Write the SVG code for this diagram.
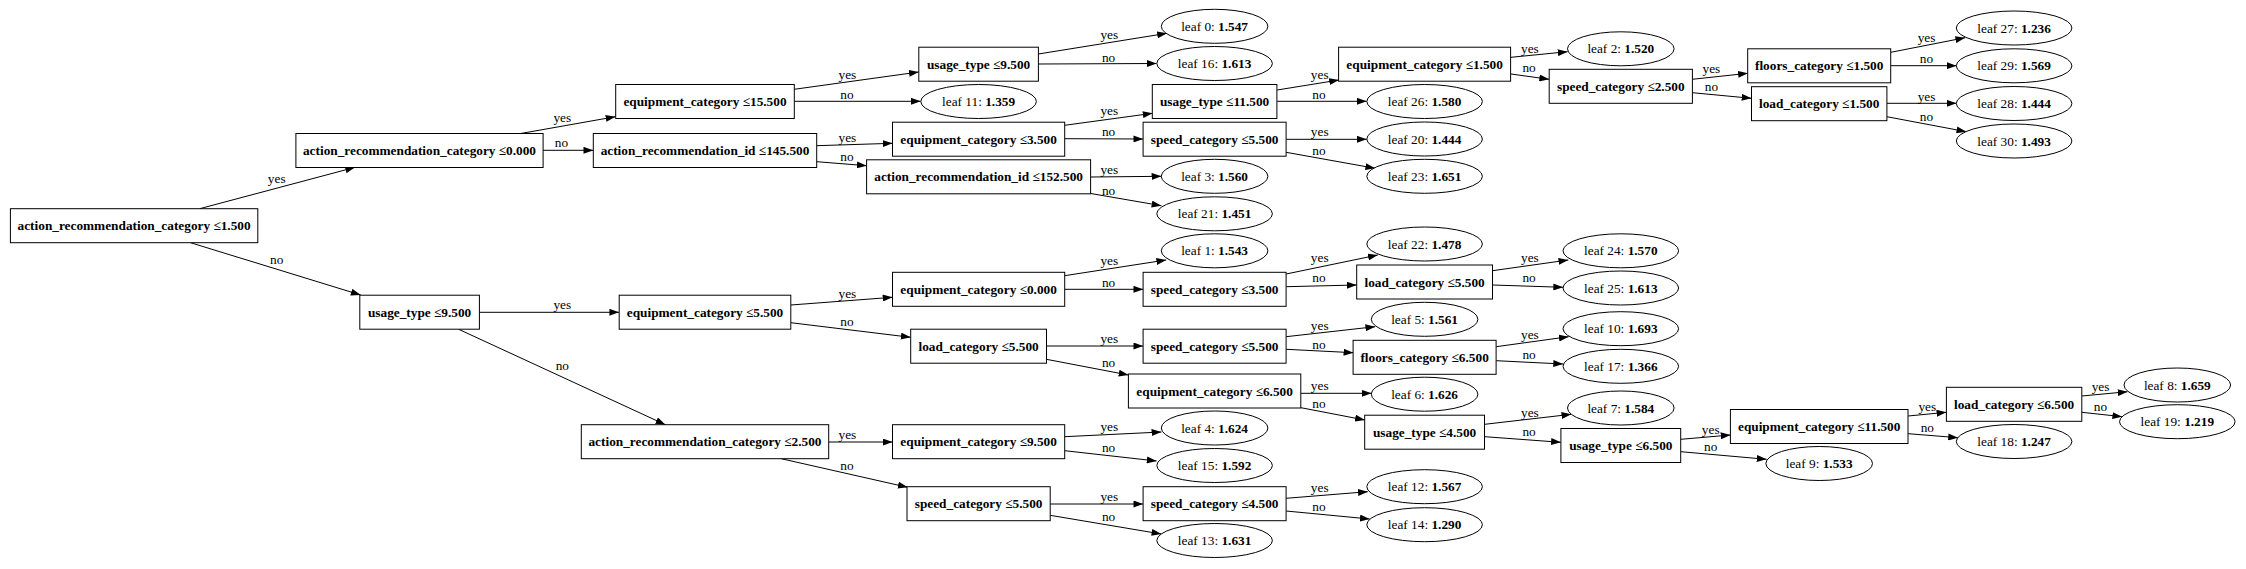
<svg xmlns="http://www.w3.org/2000/svg" width="2246" height="569" viewBox="0 0 2246 569">
<style>
.n rect{fill:#fff;stroke:#000;stroke-width:1}
.n ellipse{fill:#fff;stroke:#000;stroke-width:1}
.n text{font-family:"Liberation Serif","Times New Roman",serif;font-size:13.3px;text-anchor:middle;fill:#000}
.b{font-weight:bold}
#edges line{stroke:#000;stroke-width:1;marker-end:url(#ah)}
#edges text{font-family:"Liberation Serif","Times New Roman",serif;font-size:13.3px;text-anchor:middle;fill:#000}
</style>
<defs>
<marker id="ah" markerUnits="userSpaceOnUse" markerWidth="10" markerHeight="7" refX="9.5" refY="3.4" orient="auto" viewBox="0 0 9.5 6.8">
<path d="M0,0 L9.5,3.4 L0,6.8 z" fill="#000"/>
</marker>
</defs>
<rect width="2246" height="569" fill="#fff"/>
<g id="edges">
<line x1="199.7" y1="208.7" x2="355.1" y2="167.3"/><text x="276.7" y="183">yes</text>
<line x1="190.5" y1="242.7" x2="360.7" y2="295"/><text x="276.7" y="264">no</text>
<line x1="519.7" y1="133.7" x2="615.5" y2="116.7"/><text x="562.3" y="121.7">yes</text>
<line x1="543" y1="150.3" x2="593.3" y2="150.3"/><text x="561.5" y="147.3">no</text>
<line x1="794.2" y1="89.3" x2="918.8" y2="72"/><text x="847.4" y="79">yes</text>
<line x1="794.2" y1="101.3" x2="920.7" y2="101.3"/><text x="847" y="99">no</text>
<line x1="816.7" y1="145.7" x2="892.5" y2="143.3"/><text x="847.4" y="141.7">yes</text>
<line x1="816.7" y1="161.7" x2="866.7" y2="165.7"/><text x="847" y="160.7">no</text>
<line x1="1038.3" y1="54" x2="1167" y2="33.3"/><text x="1109.3" y="39">yes</text>
<line x1="1038.3" y1="64" x2="1156.6" y2="63.5"/><text x="1108.6" y="61.7">no</text>
<line x1="1064.6" y1="125.3" x2="1152.6" y2="113.3"/><text x="1109.3" y="115">yes</text>
<line x1="1064.6" y1="138.7" x2="1143.3" y2="139"/><text x="1108.6" y="136.3">no</text>
<line x1="1090.8" y1="177" x2="1161.4" y2="176.3"/><text x="1109.3" y="174.3">yes</text>
<line x1="1090.8" y1="193.5" x2="1161.4" y2="205.7"/><text x="1108.6" y="194.7">no</text>
<line x1="1277.2" y1="90" x2="1339" y2="80"/><text x="1319.7" y="79">yes</text>
<line x1="1277.2" y1="101.3" x2="1366.7" y2="101.3"/><text x="1319" y="99">no</text>
<line x1="1286.1" y1="139.3" x2="1366.7" y2="139.3"/><text x="1319.7" y="136.3">yes</text>
<line x1="1286.1" y1="152.3" x2="1375.2" y2="168.3"/><text x="1319" y="154.7">no</text>
<line x1="1511" y1="57.3" x2="1567.6" y2="51.7"/><text x="1529.9" y="53.3">yes</text>
<line x1="1511" y1="74" x2="1549.1" y2="79.3"/><text x="1529.1" y="72.3">no</text>
<line x1="1692.3" y1="79.3" x2="1747.9" y2="73.3"/><text x="1711.4" y="73.3">yes</text>
<line x1="1692.3" y1="92.7" x2="1751.5" y2="98.3"/><text x="1711.4" y="91.3">no</text>
<line x1="1890.8" y1="52.3" x2="1965.2" y2="37.7"/><text x="1926.5" y="41.7">yes</text>
<line x1="1890.8" y1="65.7" x2="1956.5" y2="65.7"/><text x="1926.5" y="62.7">no</text>
<line x1="1886.8" y1="103.3" x2="1956.5" y2="103.3"/><text x="1926.5" y="100.7">yes</text>
<line x1="1886.8" y1="116.7" x2="1966.3" y2="131.7"/><text x="1926.5" y="120.7">no</text>
<line x1="479.4" y1="312.3" x2="619.2" y2="312.3"/><text x="562.3" y="309">yes</text>
<line x1="458.7" y1="329.3" x2="665.4" y2="424.7"/><text x="562.3" y="370">no</text>
<line x1="790.8" y1="305" x2="892.5" y2="297.3"/><text x="847.4" y="298">yes</text>
<line x1="790.8" y1="322.7" x2="910.7" y2="337.3"/><text x="847" y="326.3">no</text>
<line x1="1064.6" y1="275.7" x2="1166.2" y2="260"/><text x="1109.3" y="265">yes</text>
<line x1="1064.6" y1="289.3" x2="1143.3" y2="289.3"/><text x="1108.6" y="287.3">no</text>
<line x1="1286.1" y1="274" x2="1377.8" y2="255"/><text x="1319.7" y="262.3">yes</text>
<line x1="1286.1" y1="286.7" x2="1356.7" y2="285"/><text x="1319" y="282.3">no</text>
<line x1="1492.5" y1="270.7" x2="1568.3" y2="260"/><text x="1529.9" y="262.3">yes</text>
<line x1="1492.5" y1="285" x2="1563.1" y2="287.3"/><text x="1529.1" y="282.3">no</text>
<line x1="1046.4" y1="346" x2="1143.3" y2="346"/><text x="1109.3" y="343.3">yes</text>
<line x1="1046.4" y1="359.3" x2="1128.5" y2="375"/><text x="1108.6" y="367.3">no</text>
<line x1="1286.1" y1="336.7" x2="1375.2" y2="326.7"/><text x="1319.7" y="329.7">yes</text>
<line x1="1286.1" y1="349.3" x2="1353.4" y2="352.7"/><text x="1319" y="349">no</text>
<line x1="1496.2" y1="346.7" x2="1568.7" y2="336.7"/><text x="1529.9" y="339">yes</text>
<line x1="1496.2" y1="360.7" x2="1563.1" y2="364"/><text x="1529.1" y="359">no</text>
<line x1="1300.9" y1="393.3" x2="1371.5" y2="393.3"/><text x="1319.7" y="390">yes</text>
<line x1="1300.9" y1="407.7" x2="1364.9" y2="420"/><text x="1319" y="408">no</text>
<line x1="1484.7" y1="424.3" x2="1571.3" y2="414.3"/><text x="1529.9" y="416.7">yes</text>
<line x1="1484.7" y1="436.7" x2="1560.9" y2="442.3"/><text x="1529.1" y="436.3">no</text>
<line x1="1680.8" y1="439.3" x2="1730.5" y2="435"/><text x="1710.7" y="434">yes</text>
<line x1="1680.8" y1="451.7" x2="1766.6" y2="459.3"/><text x="1710.7" y="450.7">no</text>
<line x1="1908.1" y1="416" x2="1946.4" y2="412.3"/><text x="1927.3" y="410.7">yes</text>
<line x1="1908.1" y1="433.7" x2="1958" y2="437.7"/><text x="1927.3" y="431.7">no</text>
<line x1="2081.8" y1="396" x2="2127.6" y2="391.7"/><text x="2100.5" y="390.7">yes</text>
<line x1="2081.8" y1="412.3" x2="2122.2" y2="416.7"/><text x="2100.5" y="410.7">no</text>
<line x1="828.6" y1="442" x2="892.5" y2="442"/><text x="847.4" y="439">yes</text>
<line x1="781.2" y1="458.7" x2="907.7" y2="487.3"/><text x="847" y="469.7">no</text>
<line x1="1064.6" y1="436.7" x2="1161.4" y2="432"/><text x="1109.3" y="430.7">yes</text>
<line x1="1064.6" y1="450.7" x2="1156.6" y2="461"/><text x="1108.6" y="451.7">no</text>
<line x1="1050.1" y1="504" x2="1143.3" y2="504"/><text x="1109.3" y="500.7">yes</text>
<line x1="1050.1" y1="515.3" x2="1161.4" y2="534"/><text x="1108.6" y="521.3">no</text>
<line x1="1286.1" y1="498.3" x2="1367.8" y2="491.7"/><text x="1319.7" y="492.3">yes</text>
<line x1="1286.1" y1="511" x2="1369.7" y2="519"/><text x="1319" y="510.7">no</text>
</g>
<g id="split0" class="n"><rect x="10.4" y="208.7" width="247.4" height="34"/><text class="b" x="134.1" y="230.2">action_recommendation_category ≤1.500</text></g>
<g id="split1" class="n"><rect x="295.9" y="133.5" width="247.2" height="34"/><text class="b" x="419.5" y="155">action_recommendation_category ≤0.000</text></g>
<g id="split2" class="n"><rect x="359.8" y="295.2" width="119.6" height="34"/><text class="b" x="419.6" y="316.7">usage_type ≤9.500</text></g>
<g id="split3" class="n"><rect x="615.7" y="84.5" width="178.6" height="34"/><text class="b" x="705" y="106">equipment_category ≤15.500</text></g>
<g id="split4" class="n"><rect x="593.3" y="133.5" width="223.4" height="34"/><text class="b" x="705" y="155">action_recommendation_id ≤145.500</text></g>
<g id="split5" class="n"><rect x="619.2" y="295.2" width="171.6" height="34"/><text class="b" x="705" y="316.7">equipment_category ≤5.500</text></g>
<g id="split6" class="n"><rect x="581.3" y="424.7" width="247.4" height="34"/><text class="b" x="705" y="446.2">action_recommendation_category ≤2.500</text></g>
<g id="split7" class="n"><rect x="918.8" y="47.2" width="119.6" height="34"/><text class="b" x="978.6" y="68.7">usage_type ≤9.500</text></g>
<g id="split8" class="n"><rect x="892.5" y="122.2" width="172.2" height="34"/><text class="b" x="978.6" y="143.7">equipment_category ≤3.500</text></g>
<g id="split9" class="n"><rect x="866.6" y="159.8" width="224" height="34"/><text class="b" x="978.6" y="181.3">action_recommendation_id ≤152.500</text></g>
<g id="split10" class="n"><rect x="892.5" y="272.3" width="172.2" height="34"/><text class="b" x="978.6" y="293.8">equipment_category ≤0.000</text></g>
<g id="split11" class="n"><rect x="910.7" y="329.2" width="135.8" height="34"/><text class="b" x="978.6" y="350.7">load_category ≤5.500</text></g>
<g id="split12" class="n"><rect x="892.5" y="424.7" width="172.2" height="34"/><text class="b" x="978.6" y="446.2">equipment_category ≤9.500</text></g>
<g id="split13" class="n"><rect x="907" y="486.7" width="143.2" height="34"/><text class="b" x="978.6" y="508.2">speed_category ≤5.500</text></g>
<g id="split14" class="n"><rect x="1152.3" y="84.5" width="124.6" height="34"/><text class="b" x="1214.6" y="106">usage_type ≤11.500</text></g>
<g id="split15" class="n"><rect x="1143.1" y="122.2" width="143" height="34"/><text class="b" x="1214.6" y="143.7">speed_category ≤5.500</text></g>
<g id="split16" class="n"><rect x="1143.1" y="272.3" width="143" height="34"/><text class="b" x="1214.6" y="293.8">speed_category ≤3.500</text></g>
<g id="split17" class="n"><rect x="1143.1" y="329.2" width="143" height="34"/><text class="b" x="1214.6" y="350.7">speed_category ≤5.500</text></g>
<g id="split18" class="n"><rect x="1128.4" y="374" width="172.4" height="34"/><text class="b" x="1214.6" y="395.5">equipment_category ≤6.500</text></g>
<g id="split19" class="n"><rect x="1143.1" y="486.7" width="143" height="34"/><text class="b" x="1214.6" y="508.2">speed_category ≤4.500</text></g>
<g id="split20" class="n"><rect x="1338.6" y="47.2" width="172" height="34"/><text class="b" x="1424.6" y="68.7">equipment_category ≤1.500</text></g>
<g id="split21" class="n"><rect x="1356.7" y="265" width="135.8" height="34"/><text class="b" x="1424.6" y="286.5">load_category ≤5.500</text></g>
<g id="split22" class="n"><rect x="1353.1" y="340.3" width="143" height="34"/><text class="b" x="1424.6" y="361.8">floors_category ≤6.500</text></g>
<g id="split23" class="n"><rect x="1364.7" y="415.2" width="119.8" height="34"/><text class="b" x="1424.6" y="436.7">usage_type ≤4.500</text></g>
<g id="split24" class="n"><rect x="1549.2" y="69.3" width="143.2" height="34"/><text class="b" x="1620.8" y="90.8">speed_category ≤2.500</text></g>
<g id="split25" class="n"><rect x="1560.9" y="428.5" width="119.8" height="34"/><text class="b" x="1620.8" y="450">usage_type ≤6.500</text></g>
<g id="split26" class="n"><rect x="1747.7" y="48.8" width="143" height="34"/><text class="b" x="1819.2" y="70.3">floors_category ≤1.500</text></g>
<g id="split27" class="n"><rect x="1751.5" y="86.7" width="135.4" height="34"/><text class="b" x="1819.2" y="108.2">load_category ≤1.500</text></g>
<g id="split28" class="n"><rect x="1730.4" y="409.5" width="177.6" height="34"/><text class="b" x="1819.2" y="431">equipment_category ≤11.500</text></g>
<g id="split29" class="n"><rect x="1946.4" y="387.3" width="135.4" height="34"/><text class="b" x="2014.1" y="408.8">load_category ≤6.500</text></g>
<g id="leaf0" class="n"><ellipse cx="1214.6" cy="26.3" rx="53.3" ry="17"/><text x="1214.6" y="30.8">leaf 0: <tspan class="b">1.547</tspan></text></g>
<g id="leaf1" class="n"><ellipse cx="1214.6" cy="250.8" rx="53.3" ry="17"/><text x="1214.6" y="255.3">leaf 1: <tspan class="b">1.543</tspan></text></g>
<g id="leaf2" class="n"><ellipse cx="1620.8" cy="48.8" rx="53.3" ry="17"/><text x="1620.8" y="53.3">leaf 2: <tspan class="b">1.520</tspan></text></g>
<g id="leaf3" class="n"><ellipse cx="1214.6" cy="176.3" rx="53.3" ry="17"/><text x="1214.6" y="180.8">leaf 3: <tspan class="b">1.560</tspan></text></g>
<g id="leaf4" class="n"><ellipse cx="1214.6" cy="428" rx="53.3" ry="17"/><text x="1214.6" y="432.5">leaf 4: <tspan class="b">1.624</tspan></text></g>
<g id="leaf5" class="n"><ellipse cx="1424.6" cy="319.3" rx="53.3" ry="17"/><text x="1424.6" y="323.8">leaf 5: <tspan class="b">1.561</tspan></text></g>
<g id="leaf6" class="n"><ellipse cx="1424.6" cy="394.2" rx="53.3" ry="17"/><text x="1424.6" y="398.7">leaf 6: <tspan class="b">1.626</tspan></text></g>
<g id="leaf7" class="n"><ellipse cx="1620.8" cy="408" rx="53.3" ry="17"/><text x="1620.8" y="412.5">leaf 7: <tspan class="b">1.584</tspan></text></g>
<g id="leaf8" class="n"><ellipse cx="2177.3" cy="385" rx="53.3" ry="17"/><text x="2177.3" y="389.5">leaf 8: <tspan class="b">1.659</tspan></text></g>
<g id="leaf9" class="n"><ellipse cx="1819.2" cy="463.5" rx="53.3" ry="17"/><text x="1819.2" y="468">leaf 9: <tspan class="b">1.533</tspan></text></g>
<g id="leaf10" class="n"><ellipse cx="1620.8" cy="328.7" rx="57.8" ry="17"/><text x="1620.8" y="333.2">leaf 10: <tspan class="b">1.693</tspan></text></g>
<g id="leaf11" class="n"><ellipse cx="978.6" cy="101.5" rx="57.8" ry="17"/><text x="978.6" y="106">leaf 11: <tspan class="b">1.359</tspan></text></g>
<g id="leaf12" class="n"><ellipse cx="1424.6" cy="486.7" rx="57.8" ry="17"/><text x="1424.6" y="491.2">leaf 12: <tspan class="b">1.567</tspan></text></g>
<g id="leaf13" class="n"><ellipse cx="1214.6" cy="540.5" rx="57.8" ry="17"/><text x="1214.6" y="545">leaf 13: <tspan class="b">1.631</tspan></text></g>
<g id="leaf14" class="n"><ellipse cx="1424.6" cy="524.7" rx="57.8" ry="17"/><text x="1424.6" y="529.2">leaf 14: <tspan class="b">1.290</tspan></text></g>
<g id="leaf15" class="n"><ellipse cx="1214.6" cy="465.5" rx="57.8" ry="17"/><text x="1214.6" y="470">leaf 15: <tspan class="b">1.592</tspan></text></g>
<g id="leaf16" class="n"><ellipse cx="1214.6" cy="63.5" rx="57.8" ry="17"/><text x="1214.6" y="68">leaf 16: <tspan class="b">1.613</tspan></text></g>
<g id="leaf17" class="n"><ellipse cx="1620.8" cy="366.3" rx="57.8" ry="17"/><text x="1620.8" y="370.8">leaf 17: <tspan class="b">1.366</tspan></text></g>
<g id="leaf18" class="n"><ellipse cx="2014.1" cy="441.5" rx="57.8" ry="17"/><text x="2014.1" y="446">leaf 18: <tspan class="b">1.247</tspan></text></g>
<g id="leaf19" class="n"><ellipse cx="2177.3" cy="421.7" rx="57.8" ry="17"/><text x="2177.3" y="426.2">leaf 19: <tspan class="b">1.219</tspan></text></g>
<g id="leaf20" class="n"><ellipse cx="1424.6" cy="139" rx="57.8" ry="17"/><text x="1424.6" y="143.5">leaf 20: <tspan class="b">1.444</tspan></text></g>
<g id="leaf21" class="n"><ellipse cx="1214.6" cy="213.8" rx="57.8" ry="17"/><text x="1214.6" y="218.3">leaf 21: <tspan class="b">1.451</tspan></text></g>
<g id="leaf22" class="n"><ellipse cx="1424.6" cy="244" rx="57.8" ry="17"/><text x="1424.6" y="248.5">leaf 22: <tspan class="b">1.478</tspan></text></g>
<g id="leaf23" class="n"><ellipse cx="1424.6" cy="176.3" rx="57.8" ry="17"/><text x="1424.6" y="180.8">leaf 23: <tspan class="b">1.651</tspan></text></g>
<g id="leaf24" class="n"><ellipse cx="1620.8" cy="250.8" rx="57.8" ry="17"/><text x="1620.8" y="255.3">leaf 24: <tspan class="b">1.570</tspan></text></g>
<g id="leaf25" class="n"><ellipse cx="1620.8" cy="288" rx="57.8" ry="17"/><text x="1620.8" y="292.5">leaf 25: <tspan class="b">1.613</tspan></text></g>
<g id="leaf26" class="n"><ellipse cx="1424.6" cy="101.5" rx="57.8" ry="17"/><text x="1424.6" y="106">leaf 26: <tspan class="b">1.580</tspan></text></g>
<g id="leaf27" class="n"><ellipse cx="2014.1" cy="28" rx="57.8" ry="17"/><text x="2014.1" y="32.5">leaf 27: <tspan class="b">1.236</tspan></text></g>
<g id="leaf28" class="n"><ellipse cx="2014.1" cy="103.5" rx="57.8" ry="17"/><text x="2014.1" y="108">leaf 28: <tspan class="b">1.444</tspan></text></g>
<g id="leaf29" class="n"><ellipse cx="2014.1" cy="65.8" rx="57.8" ry="17"/><text x="2014.1" y="70.3">leaf 29: <tspan class="b">1.569</tspan></text></g>
<g id="leaf30" class="n"><ellipse cx="2014.1" cy="141" rx="57.8" ry="17"/><text x="2014.1" y="145.5">leaf 30: <tspan class="b">1.493</tspan></text></g>
</svg>
